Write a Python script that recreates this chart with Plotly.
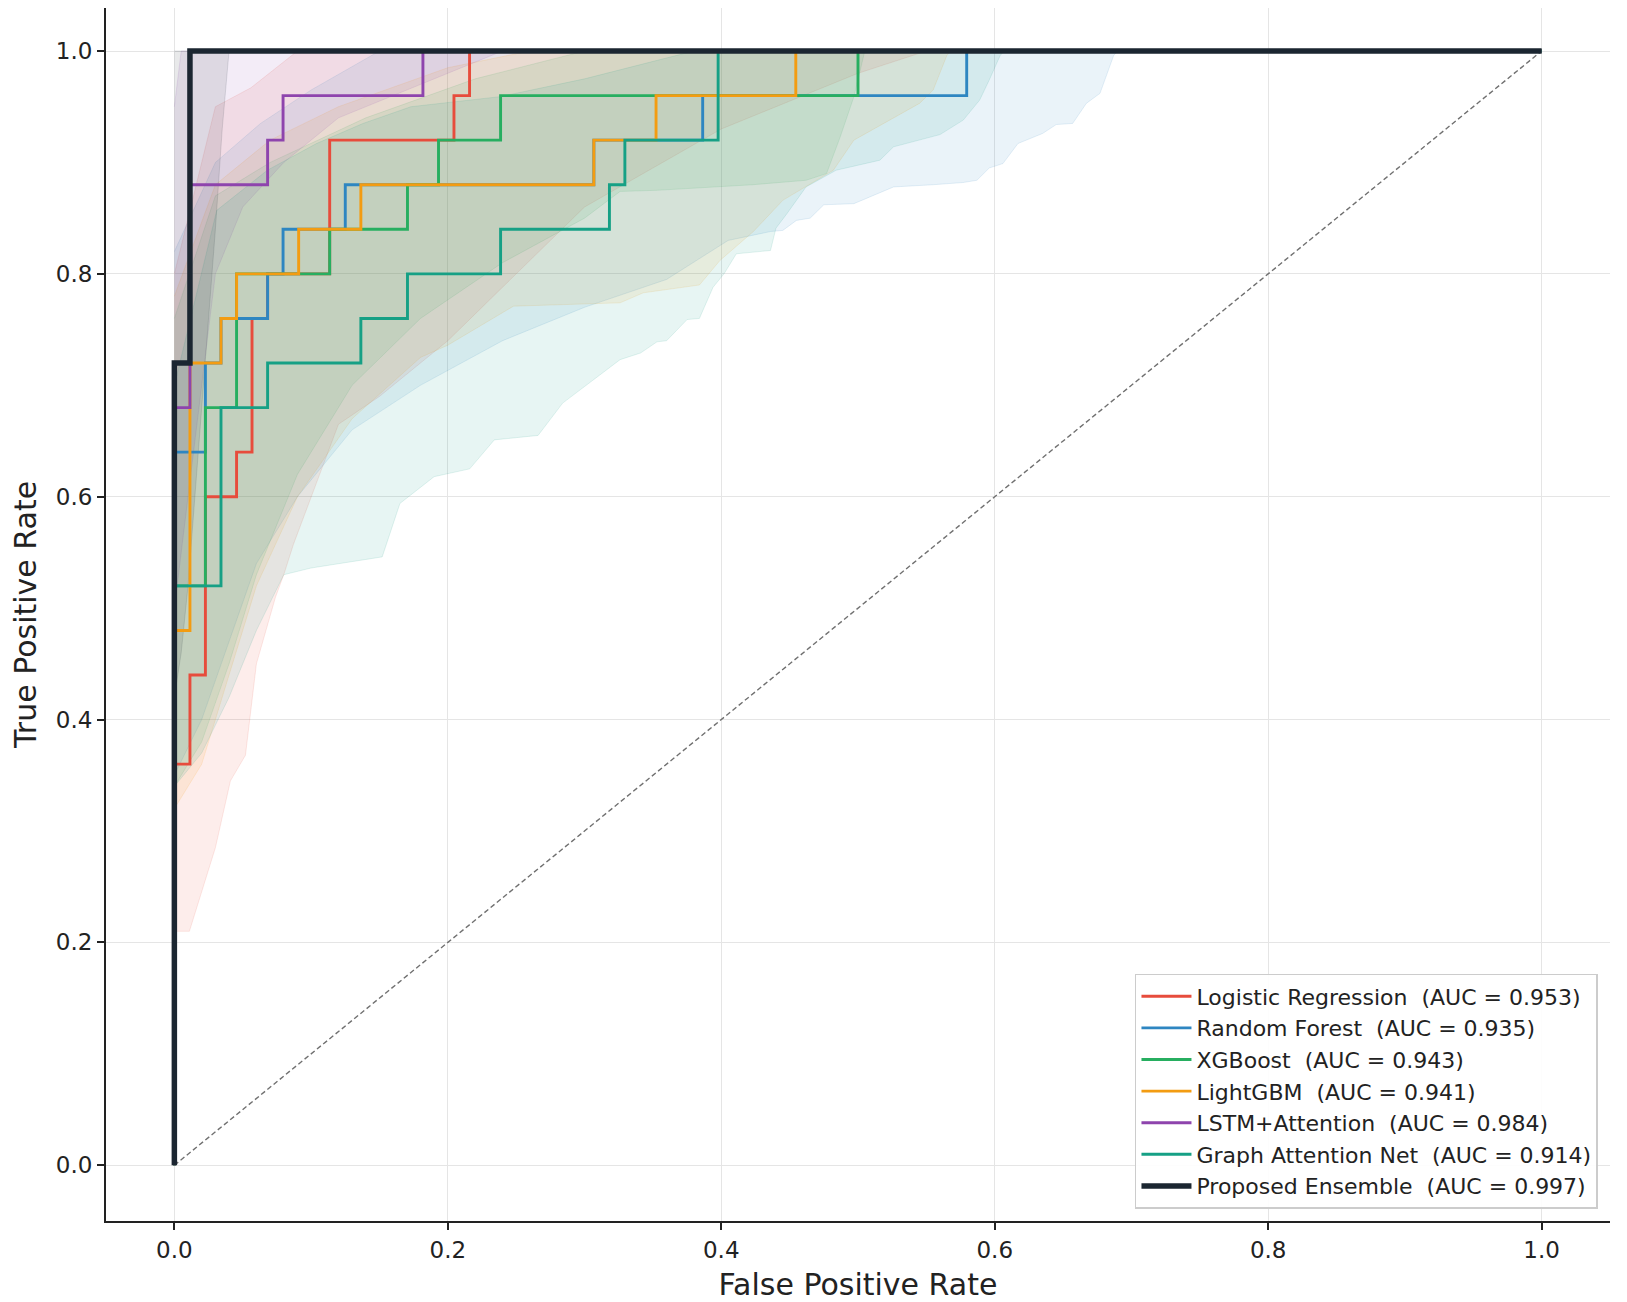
import plotly.graph_objects as go

# ROC step points (fpr, tpr)
model_names = ['Logistic Regression', 'Random Forest', 'XGBoost', 'LightGBM',
               'LSTM+Attention', 'Graph Attention Net', 'Proposed Ensemble']
auc_values = [0.953, 0.935, 0.943, 0.941, 0.984, 0.914, 0.997]
line_colors = ['#e74c3c', '#2e86c1', '#27ae60', '#f39c12', '#8e44ad', '#16a085', '#1b2631']
band_rgb = ['231,76,60', '46,134,193', '39,174,96', '243,156,18', '142,68,173', '22,160,133', '27,38,49']

lr_fpr = [0, 0, 0.0114, 0.0227, 0.0455, 0.0568, 0.0682, 0.1136, 0.2045, 0.2159, 1.0]
lr_tpr = [0, 0.36, 0.44, 0.60, 0.64, 0.76, 0.80, 0.92, 0.96, 1.0, 1.0]
rf_fpr = [0, 0, 0.0227, 0.0341, 0.0682, 0.0795, 0.1250, 0.3068, 0.3864, 0.5795, 1.0]
rf_tpr = [0, 0.64, 0.72, 0.76, 0.80, 0.84, 0.88, 0.92, 0.96, 1.0, 1.0]
xgb_fpr = [0, 0, 0.0227, 0.0455, 0.1136, 0.1705, 0.1932, 0.2386, 0.5000, 1.0]
xgb_tpr = [0, 0.52, 0.68, 0.80, 0.84, 0.88, 0.92, 0.96, 1.0, 1.0]
lgbm_fpr = [0, 0, 0.0114, 0.0341, 0.0455, 0.0909, 0.1364, 0.3068, 0.3523, 0.4545, 1.0]
lgbm_tpr = [0, 0.48, 0.72, 0.76, 0.80, 0.84, 0.88, 0.92, 0.96, 1.0, 1.0]
lstm_fpr = [0, 0, 0.0114, 0.0682, 0.0795, 0.1818, 1.0]
lstm_tpr = [0, 0.68, 0.88, 0.92, 0.96, 1.0, 1.0]
gat_fpr = [0, 0, 0.0341, 0.0682, 0.1364, 0.1705, 0.2386, 0.3182, 0.3295, 0.3977, 1.0]
gat_tpr = [0, 0.52, 0.68, 0.72, 0.76, 0.80, 0.84, 0.88, 0.92, 1.0, 1.0]
ens_fpr = [0, 0, 0.0114, 1.0]
ens_tpr = [0, 0.72, 1.0, 1.0]

# confidence bands: lower and upper edges
lr_lo_x = [0, 0.011, 0.03, 0.041, 0.052, 0.06, 0.074, 0.08, 0.087, 0.12, 0.15, 0.20, 0.25, 0.30, 0.40, 0.50, 0.55, 1.0]
lr_lo_y = [0.21, 0.21, 0.285, 0.345, 0.368, 0.45, 0.51, 0.53, 0.557, 0.665, 0.69, 0.74, 0.80, 0.86, 0.93, 0.98, 1.0, 1.0]
lr_hi_x = [0, 0.014, 0.03, 0.056, 0.09, 1.0]
lr_hi_y = [0.80, 0.87, 0.95, 0.967, 1.0, 1.0]

rf_lo_x = [0, 0.02, 0.04, 0.06, 0.09, 0.13, 0.18, 0.24, 0.30, 0.36, 0.405, 0.436, 0.445, 0.455, 0.465,
           0.475, 0.497, 0.526, 0.555, 0.577, 0.587, 0.596, 0.606, 0.617, 0.635, 0.645, 0.657, 0.667,
           0.677, 0.687, 0.69, 1.0]
rf_lo_y = [0.35, 0.40, 0.47, 0.54, 0.60, 0.66, 0.70, 0.74, 0.77, 0.795, 0.83, 0.838, 0.839, 0.848, 0.85,
           0.862, 0.863, 0.878, 0.880, 0.882, 0.884, 0.895, 0.899, 0.917, 0.926, 0.934, 0.935, 0.953,
           0.962, 0.996, 1.0, 1.0]
rf_hi_x = [0, 0.03, 0.063, 0.10, 0.15, 1.0]
rf_hi_y = [0.82, 0.90, 0.935, 0.965, 1.0, 1.0]

xgb_lo_x = [0, 0.02, 0.04, 0.06, 0.09, 0.13, 0.18, 0.24, 0.30, 0.326, 0.353, 0.423, 0.462, 0.477,
            0.487, 0.497, 0.505, 1.0]
xgb_lo_y = [0.34, 0.38, 0.45, 0.53, 0.62, 0.70, 0.76, 0.81, 0.85, 0.874, 0.875, 0.88, 0.884, 0.89,
            0.923, 0.959, 1.0, 1.0]
xgb_hi_x = [0, 0.03, 0.07, 0.14, 0.22, 0.30, 1.0]
xgb_hi_y = [0.76, 0.87, 0.90, 0.94, 0.975, 1.0, 1.0]

lgbm_lo_x = [0, 0.02, 0.04, 0.06, 0.09, 0.13, 0.18, 0.20, 0.248, 0.306, 0.326, 0.343, 0.384, 0.399,
             0.4235, 0.445, 0.482, 0.497, 0.545, 0.555, 0.565, 0.568, 1.0]
lgbm_lo_y = [0.32, 0.36, 0.44, 0.52, 0.60, 0.67, 0.725, 0.736, 0.771, 0.773, 0.774, 0.783, 0.79, 0.812,
             0.838, 0.866, 0.893, 0.92, 0.953, 0.965, 0.996, 1.0, 1.0]
lgbm_hi_x = [0, 0.03, 0.07, 0.12, 0.20, 0.26, 1.0]
lgbm_hi_y = [0.78, 0.88, 0.92, 0.95, 0.985, 1.0, 1.0]

lstm_lo_x = [0, 0.01, 0.02, 0.03, 0.05, 0.08, 0.12, 0.18, 0.24, 1.0]
lstm_lo_y = [0.50, 0.60, 0.70, 0.80, 0.86, 0.90, 0.94, 0.97, 1.0, 1.0]
lstm_hi_x = [0, 0.005, 1.0]
lstm_hi_y = [0.95, 1.0, 1.0]

gat_lo_x = [0, 0.02, 0.04, 0.06, 0.08, 0.10, 0.152, 0.165, 0.19, 0.216, 0.234, 0.266, 0.284, 0.315,
            0.326, 0.341, 0.353, 0.36, 0.375, 0.384, 0.394, 0.402, 0.411, 0.436, 0.44, 0.448, 0.462,
            0.484, 0.516, 0.526, 0.56, 0.577, 0.589, 0.596, 0.604, 0.607, 1.0]
gat_lo_y = [0.34, 0.37, 0.42, 0.48, 0.53, 0.536, 0.546, 0.594, 0.618, 0.625, 0.651, 0.655, 0.684, 0.713,
            0.723, 0.729, 0.739, 0.74, 0.759, 0.76, 0.788, 0.80, 0.818, 0.821, 0.841, 0.854, 0.878,
            0.893, 0.902, 0.914, 0.925, 0.938, 0.956, 0.974, 0.996, 1.0, 1.0]
gat_hi_x = [0, 0.031, 0.068, 0.104, 0.138, 0.173, 0.238, 0.30, 0.38, 1.0]
gat_hi_y = [0.70, 0.857, 0.893, 0.917, 0.935, 0.95, 0.959, 0.975, 1.0, 1.0]

ens_lo_x = [0, 0.005, 0.01, 0.015, 0.02, 0.025, 0.03, 0.035, 0.04, 1.0]
ens_lo_y = [0.42, 0.46, 0.52, 0.60, 0.68, 0.76, 0.84, 0.93, 1.0, 1.0]
ens_hi_x = [0, 1.0]
ens_hi_y = [1.0, 1.0]

curves = [(lr_fpr, lr_tpr), (rf_fpr, rf_tpr), (xgb_fpr, xgb_tpr), (lgbm_fpr, lgbm_tpr),
          (lstm_fpr, lstm_tpr), (gat_fpr, gat_tpr), (ens_fpr, ens_tpr)]
bands = [(lr_lo_x, lr_lo_y, lr_hi_x, lr_hi_y), (rf_lo_x, rf_lo_y, rf_hi_x, rf_hi_y),
         (xgb_lo_x, xgb_lo_y, xgb_hi_x, xgb_hi_y), (lgbm_lo_x, lgbm_lo_y, lgbm_hi_x, lgbm_hi_y),
         (lstm_lo_x, lstm_lo_y, lstm_hi_x, lstm_hi_y), (gat_lo_x, gat_lo_y, gat_hi_x, gat_hi_y),
         (ens_lo_x, ens_lo_y, ens_hi_x, ens_hi_y)]

fig = go.Figure()

# shaded bands first
for (lo_x, lo_y, hi_x, hi_y), rgb in zip(bands, band_rgb):
    fig.add_trace(go.Scatter(
        x=lo_x + hi_x[::-1], y=lo_y + hi_y[::-1],
        fill='toself', fillcolor=f'rgba({rgb},0.10)',
        line=dict(color=f'rgba({rgb},0.12)', width=1),
        mode='lines', hoverinfo='skip', showlegend=False))

# chance diagonal
fig.add_trace(go.Scatter(x=[0, 1], y=[0, 1], mode='lines',
                         line=dict(color='#707070', width=1.4, dash='5px,3px'),
                         showlegend=False, hoverinfo='skip'))

for i, (fpr, tpr) in enumerate(curves):
    is_ens = i == len(curves) - 1
    fig.add_trace(go.Scatter(
        x=fpr, y=tpr, mode='lines', line_shape='hv',
        line=dict(color=line_colors[i], width=5.5 if is_ens else 2.9),
        name=f'{model_names[i]}\u00a0 (AUC = {auc_values[i]:.3f})'))

axis_common = dict(
    showline=True, linecolor='#222222', linewidth=2, mirror=False,
    ticks='outside', ticklen=7, tickwidth=1.5, tickcolor='#222222',
    showgrid=True, gridcolor='#e5e5e5', gridwidth=1, zeroline=False,
    tickfont=dict(family='DejaVu Sans', size=23, color='#222222'),
    tick0=0, dtick=0.2, tickformat='.1f', automargin=False)

# page body adds an 8px offset, so the figure is 8px smaller than the window
fig.update_layout(
    width=1619, height=1294,
    margin=dict(l=98, r=17, t=0, b=81),
    paper_bgcolor='white', plot_bgcolor='white',
    font=dict(family='DejaVu Sans', color='#222222'),
    xaxis=dict(range=[-0.05, 1.05], title=dict(text='False Positive Rate', font=dict(size=30), standoff=15),
               **axis_common),
    yaxis=dict(range=[-0.05, 1.0386], title=dict(text='True Positive Rate', font=dict(size=30), standoff=24),
               **axis_common),
    legend=dict(x=0.992, y=0.0099, xanchor='right', yanchor='bottom',
                bgcolor='rgba(255,255,255,0.9)', bordercolor='#cccccc', borderwidth=1.5,
                font=dict(family='DejaVu Sans', size=22, color='#222222'),
                itemwidth=50, tracegroupgap=0),
)

fig.write_html("out.html")
